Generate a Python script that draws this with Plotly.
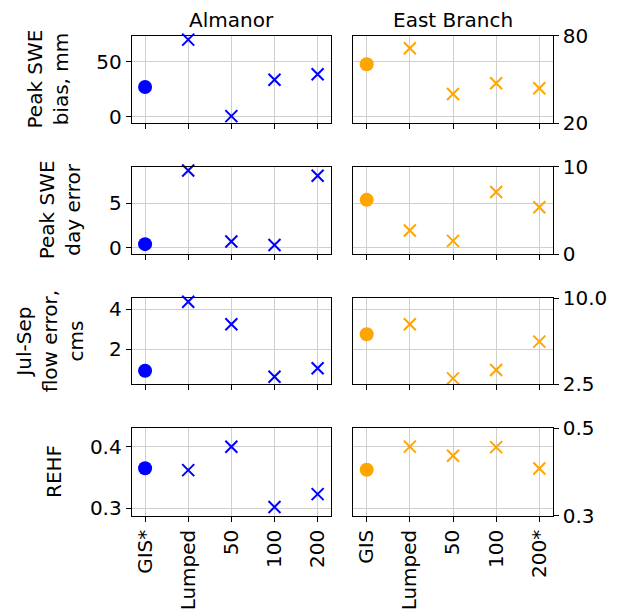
import plotly.graph_objects as go

W, H = 621, 616

# ---------------- data ----------------
almanor_labels = ["GIS*", "Lumped", "50", "100", "200"]
east_labels = ["GIS", "Lumped", "50", "100", "200*"]

row_titles = ["Peak SWE<br>bias, mm", "Peak SWE<br>day error",
              "Jul-Sep<br>flow error,<br>cms", "REHF"]

almanor_peak_swe_bias = [27, 70, 0.5, 33.5, 38.5]
almanor_peak_day_error = [0.4, 8.7, 0.7, 0.3, 8.1]
almanor_flow_error = [0.93, 4.38, 3.25, 0.63, 1.05]
almanor_rehf = [0.365, 0.362, 0.400, 0.302, 0.323]

east_peak_swe_bias = [60.4, 71.4, 40.1, 47.4, 44.0]
east_peak_day_error = [6.2, 2.7, 1.5, 7.1, 5.35]
east_flow_error = [6.86, 7.73, 3.02, 3.75, 6.22]
east_rehf = [0.405, 0.458, 0.437, 0.457, 0.408]

left_ticks = [[0, 50], [0, 5], [2, 4], [0.3, 0.4]]
left_ticktext = [["0", "50"], ["0", "5"], ["2", "4"], ["0.3", "0.4"]]
left_ranges = [[-6, 73.6], [-0.71, 9.12], [0.25, 4.55], [0.288, 0.430]]
right_ticks = [[20, 80], [0, 10], [2.5, 10.0], [0.3, 0.5]]
right_ticktext = [["20", "80"], ["0", "10"], ["2.5", "10.0"], ["0.3", "0.5"]]

almanor_rows = [almanor_peak_swe_bias, almanor_peak_day_error, almanor_flow_error, almanor_rehf]
east_rows = [east_peak_swe_bias, east_peak_day_error, east_flow_error, east_rehf]

BLUE = "#0000ff"
ORANGE = "#ffa500"
GRID = "#cfcfcf"
FONT = "DejaVu Sans"
FS = 20

# ---------------- layout geometry (pixels) ----------------
left_px = (131.7, 331.0)
right_px = (353.3, 552.7)
rows_px = [(35.7, 123.3), (166.7, 254.0), (298.3, 384.3), (428.3, 515.7)]
label_cx = [47, 60, 50, 54]


def xp(px):
    return px / W


def yp(py):
    return 1 - py / H


def aid(letter, n):
    return letter + ("" if n == 1 else str(n))


fig = go.Figure()
layout = dict(
    width=W, height=H, margin=dict(l=0, r=0, t=0, b=0, autoexpand=False),
    paper_bgcolor="white", plot_bgcolor="white",
    showlegend=False,
    font=dict(family=FONT, size=FS, color="black"),
)

xpos = list(range(len(almanor_labels)))
xr = [-0.31, 4.31]

annotations = []
for r in range(4):
    top, bot = rows_px[r]
    ydom = [yp(bot), yp(top)]
    xa, xb = 2 * r + 1, 2 * r + 2
    yl, yg, yr = 3 * r + 1, 3 * r + 2, 3 * r + 3
    last = r == 3

    def xax(dom, labels, anchor):
        return dict(domain=dom, range=xr, tickvals=xpos, ticktext=labels,
                    showticklabels=last, tickangle=-90, automargin=False,
                    ticks="outside", ticklen=5, tickwidth=1, tickcolor="black",
                    showgrid=True, gridcolor=GRID, gridwidth=1,
                    showline=True, linecolor="black", linewidth=1, mirror=True,
                    zeroline=False, anchor=anchor,
                    tickfont=dict(family=FONT, size=FS, color="black"))

    layout[aid("xaxis", xa)] = xax([xp(left_px[0]), xp(left_px[1])], almanor_labels, aid("y", yl))
    layout[aid("xaxis", xb)] = xax([xp(right_px[0]), xp(right_px[1])], east_labels, aid("y", yg))

    layout[aid("yaxis", yl)] = dict(
        domain=ydom, range=left_ranges[r], tickvals=left_ticks[r], ticktext=left_ticktext[r],
        ticks="outside", ticklen=5, tickwidth=1, tickcolor="black", automargin=False,
        showgrid=True, gridcolor=GRID, gridwidth=1,
        showline=True, linecolor="black", linewidth=1, mirror=True,
        zeroline=False, anchor=aid("x", xa),
        tickfont=dict(family=FONT, size=FS, color="black"))
    layout[aid("yaxis", yg)] = dict(
        domain=ydom, range=left_ranges[r], tickvals=left_ticks[r],
        showticklabels=False, ticks="", automargin=False,
        showgrid=True, gridcolor=GRID, gridwidth=1,
        showline=True, linecolor="black", linewidth=1, mirror=True,
        zeroline=False, anchor=aid("x", xb))
    layout[aid("yaxis", yr)] = dict(
        domain=ydom, automargin=False,
        range=[right_ticks[r][0], right_ticks[r][1]], tickvals=right_ticks[r], ticktext=right_ticktext[r],
        overlaying=aid("y", yg), side="right", anchor=aid("x", xb),
        ticks="outside", ticklen=5, tickwidth=1, tickcolor="black",
        showgrid=False, showline=False, zeroline=False,
        tickfont=dict(family=FONT, size=FS, color="black"))

    a_vals = almanor_rows[r]
    e_vals = east_rows[r]
    # Almanor: first = circle, rest = x
    fig.add_trace(go.Scatter(x=xpos[:1], y=a_vals[:1], mode="markers", xaxis=aid("x", xa), yaxis=aid("y", yl),
                             marker=dict(symbol="circle", size=14, color=BLUE), cliponaxis=False))
    fig.add_trace(go.Scatter(x=xpos[1:], y=a_vals[1:], mode="markers", xaxis=aid("x", xa), yaxis=aid("y", yl),
                             marker=dict(symbol="x-thin", size=12, color=BLUE,
                                         line=dict(color=BLUE, width=2)), cliponaxis=False))
    # empty trace establishing the base (grid) subplot of the right panel
    fig.add_trace(go.Scatter(x=[], y=[], mode="markers", xaxis=aid("x", xb), yaxis=aid("y", yg),
                             hoverinfo="skip"))
    fig.add_trace(go.Scatter(x=xpos[:1], y=e_vals[:1], mode="markers", xaxis=aid("x", xb), yaxis=aid("y", yr),
                             marker=dict(symbol="circle", size=14, color=ORANGE), cliponaxis=False))
    fig.add_trace(go.Scatter(x=xpos[1:], y=e_vals[1:], mode="markers", xaxis=aid("x", xb), yaxis=aid("y", yr),
                             marker=dict(symbol="x-thin", size=12, color=ORANGE,
                                         line=dict(color=ORANGE, width=2)), cliponaxis=False))

    annotations.append(dict(text=row_titles[r], x=xp(label_cx[r]), y=yp((top + bot) / 2),
                            xref="paper", yref="paper", xanchor="center", yanchor="middle",
                            textangle=-90, showarrow=False,
                            font=dict(family=FONT, size=FS, color="black")))

annotations.append(dict(text="Almanor", x=xp((left_px[0] + left_px[1]) / 2), y=yp(20),
                        xref="paper", yref="paper", xanchor="center", yanchor="middle",
                        showarrow=False, font=dict(family=FONT, size=FS, color="black")))
annotations.append(dict(text="East Branch", x=xp((right_px[0] + right_px[1]) / 2), y=yp(20),
                        xref="paper", yref="paper", xanchor="center", yanchor="middle",
                        showarrow=False, font=dict(family=FONT, size=FS, color="black")))
layout["annotations"] = annotations

fig.update_layout(**layout)
fig.write_html("out.html")
